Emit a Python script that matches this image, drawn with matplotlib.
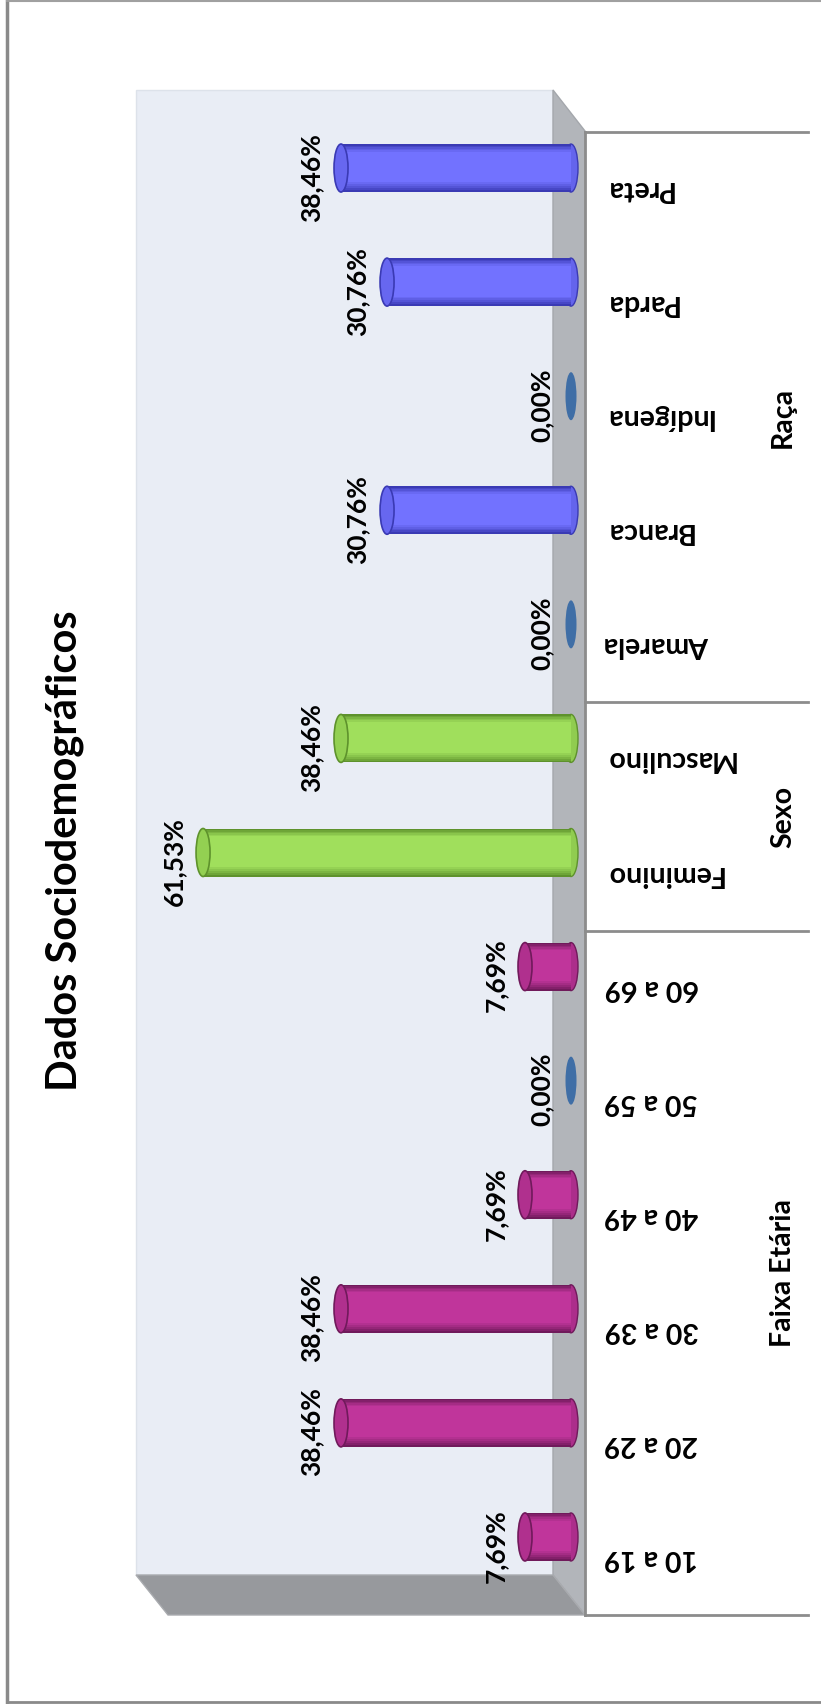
import matplotlib
matplotlib.use("Agg")
import matplotlib.pyplot as plt
from matplotlib.patches import Polygon, Ellipse
from matplotlib.lines import Line2D
from matplotlib import transforms
from matplotlib.colors import to_rgb

# ----------------------------------------------------------
# data (bottom to top)
# ----------------------------------------------------------
faixa_labels = ["10 a 19", "20 a 29", "30 a 39", "40 a 49", "50 a 59", "60 a 69"]
faixa_values = [7.69, 38.46, 38.46, 7.69, 0.00, 7.69]

sexo_labels = ["Feminino", "Masculino"]
sexo_values = [61.53, 38.46]

raca_labels = ["Amarela", "Branca", "Indígena", "Parda", "Preta"]
raca_values = [0.00, 30.76, 0.00, 30.76, 38.46]

group_names = ["Faixa Etária", "Sexo", "Raça"]
title = "Dados Sociodemográficos"

# (edge, highlight) for each group
palettes = [
    ("#701A5B", "#C0359B"),
    ("#5E922C", "#A0DF5C"),
    ("#3A3AB4", "#7272FF"),
]
zero_color = "#3F6EA6"

plt.rcParams["font.family"] = ["Lato", "DejaVu Sans"]
plt.rcParams["font.weight"] = "bold"

W, H = 821, 1704
fig = plt.figure(figsize=(W / 100, H / 100), dpi=100)
fig.patch.set_facecolor("white")


def fx(x):
    return x / W


def fy(y):
    return 1 - y / H


def P(x, y):
    return (fx(x), fy(y))


def mix(c1, c2, t):
    a, b = to_rgb(c1), to_rgb(c2)
    return tuple(a[i] + (b[i] - a[i]) * t for i in range(3))


# plot box: wall + floor strip, 3D look
box_l, box_r, box_t, box_b = 136, 585, 90, 1615
zero_px, px_per_unit = 571, 5.98
slot_px = (box_b - 132) / 13.0

ax = fig.add_axes([fx(box_l), fy(box_b), (box_r - box_l) / W, (box_b - box_t) / H])
ax.set_xlim((zero_px - box_l) / px_per_unit, (zero_px - box_r) / px_per_unit)
ax.set_ylim(0, (box_b - box_t) / slot_px)
ax.axis("off")

ft = fig.transFigure
wall = Polygon([P(136, 90), P(553, 90), P(553, 1575), P(136, 1575)],
               closed=True, facecolor="#E9EDF5", edgecolor="#DDE2EA", lw=1,
               transform=ft, zorder=0, clip_on=False)
side = Polygon([P(553, 90), P(585, 131), P(585, 1615), P(553, 1575)],
               closed=True, facecolor="#B2B5BA", edgecolor="#A4A7AC", lw=1,
               transform=ft, zorder=0, clip_on=False)
floor = Polygon([P(136, 1575), P(553, 1575), P(585, 1615), P(168, 1615)],
                closed=True, facecolor="#97999D", edgecolor="#A9ABAF", lw=1,
                transform=ft, zorder=0, clip_on=False)
for p in (wall, side, floor):
    ax.add_patch(p)

# ----------------------------------------------------------
# cylinders
# ----------------------------------------------------------
groups = [(faixa_labels, faixa_values), (sexo_labels, sexo_values), (raca_labels, raca_values)]
bar_h = 48 / slot_px
cap_w = 14 / px_per_unit
lift = 21 / slot_px  # bars sit a bit behind the category slots
n_layers = 14

idx = 0
bounds = [0]
for g, (labels, values) in enumerate(groups):
    edge, light = palettes[g]
    body = mix(edge, light, 0.75)
    for lab, v in zip(labels, values):
        y = idx + 0.5 + lift
        if v == 0:
            ax.add_patch(Ellipse((0, y), 11 / px_per_unit, bar_h, facecolor=zero_color,
                                 edgecolor="none", zorder=3))
        else:
            ax.add_patch(Ellipse((0, y), cap_w, bar_h, facecolor=body,
                                 edgecolor=edge, lw=1, zorder=2))
            # stacked bands: dark rim fading into a highlight near the middle
            for k in range(n_layers):
                f = 1 - k / n_layers
                t = min(1.0, (1 - f ** 2.2) * 1.6)
                ax.barh(y + (1 - f) * bar_h * 0.06, v, height=bar_h * f,
                        color=mix(edge, light, t), zorder=3)
            ax.add_patch(Ellipse((v, y), cap_w, bar_h, facecolor=mix(edge, light, 0.8),
                                 edgecolor=edge, lw=1.2, zorder=4))
        ax.annotate(f"{v:.2f}%".replace(".", ","), xy=(v, y),
                    xytext=(-12.5, -6.5), textcoords="offset points",
                    rotation=90, ha="right", va="center", fontsize=19,
                    color="black", zorder=5)
        idx += 1
    bounds.append(idx)

# ----------------------------------------------------------
# category axis (drawn to the right)
# ----------------------------------------------------------
blend = transforms.blended_transform_factory(ft, ax.transData)
x_right = ax.get_xlim()[1]
ax.plot([x_right, x_right], [0, bounds[-1]], color="#8C8C8C", lw=2,
        clip_on=False, zorder=1)
for b in bounds:
    fig.add_artist(Line2D([fx(585), fx(808)], [b, b], transform=blend,
                          color="#8C8C8C", lw=2))

idx = 0
for g, (labels, values) in enumerate(groups):
    for lab in labels:
        ax.text(fx(604), idx + 0.5, lab, transform=blend, rotation=180,
                ha="left", va="center", fontsize=20.5)
        idx += 1
    ax.text(fx(783), (bounds[g] + bounds[g + 1]) / 2, group_names[g],
            transform=blend, rotation=90, ha="center", va="center", fontsize=20.5)

fig.text(fx(65), fy(851), title, rotation=90, ha="center", va="center", fontsize=30)

# outer frame (open on the right)
fig.add_artist(Line2D([fx(7), fx(7)], [fy(1), fy(1702)], transform=ft, color="#8A8A8A", lw=2.5))
fig.add_artist(Line2D([fx(7), fx(821)], [fy(1), fy(1)], transform=ft, color="#A0A0A0", lw=1.5))
fig.add_artist(Line2D([fx(7), fx(821)], [fy(1702), fy(1702)], transform=ft, color="#8A8A8A", lw=2))

fig.savefig("out.png", dpi=100)
